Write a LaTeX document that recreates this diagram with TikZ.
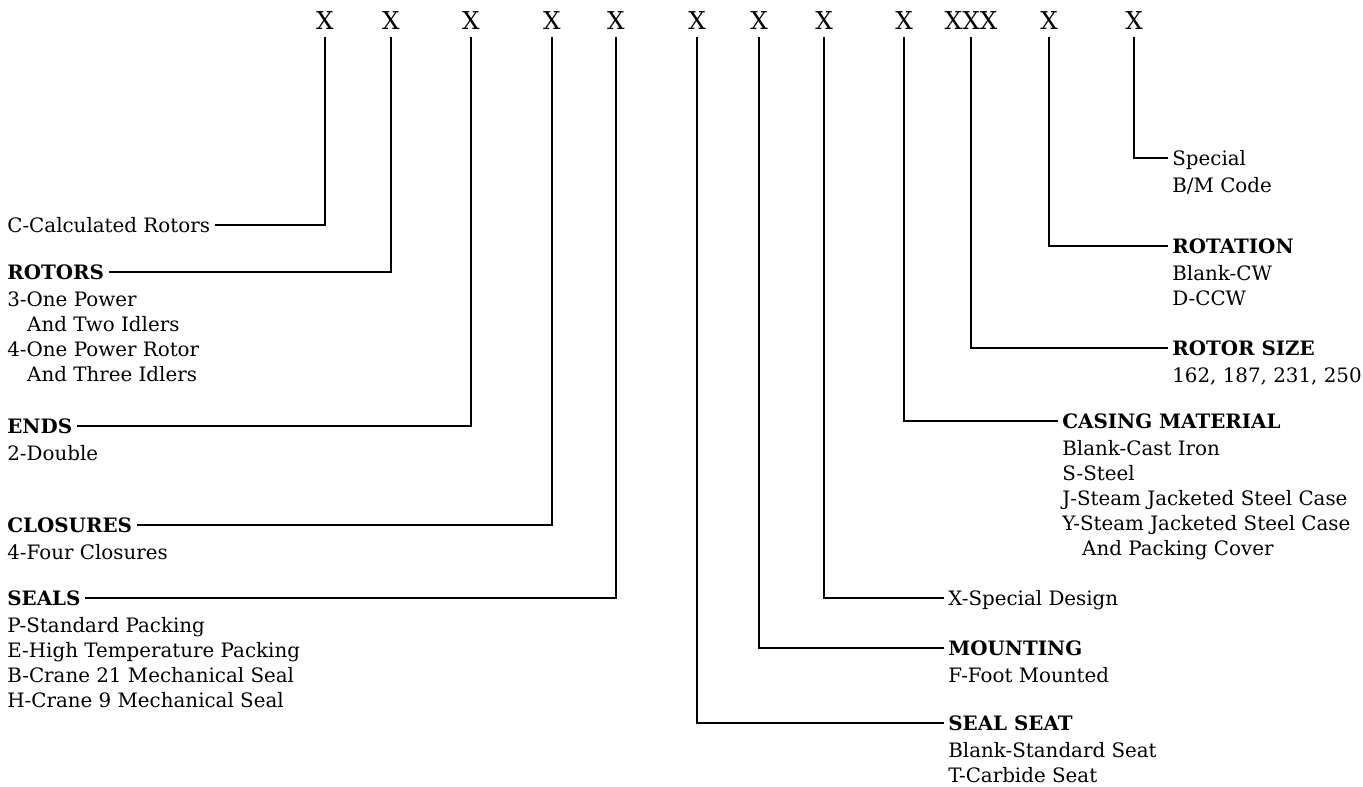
\documentclass[tikz,border=0pt]{standalone}
\usepackage{fontspec}
\setmainfont{DejaVu Serif}
\usetikzlibrary{positioning}
\tikzset{
    codechar/.style={font=\fontsize{14}{16}\selectfont, inner sep=4pt, anchor=base},
    keyhead/.style={font=\fontsize{11.3}{14.2}\selectfont\bfseries, inner xsep=2.5pt, inner ysep=0pt, text height=8.2pt, text depth=0pt, anchor=west},
    keyplain/.style={keyhead, font=\fontsize{11.3}{14.2}\selectfont},
    keybody/.style={font=\fontsize{11.3}{14.2}\selectfont, align=left, inner xsep=2.5pt, inner ysep=0pt},
    leader/.style={line width=1.6pt}
}

\begin{document}
\begin{tikzpicture}[x=0.02cm, y=-0.02cm]
        \useasboundingbox (0,0) rectangle (1363,787);

        % model code letters
        \node[codechar] (x1) at (325,30) {X};
        \node[codechar] (x2) at (391,30) {X};
        \node[codechar] (x3) at (471,30) {X};
        \node[codechar] (x4) at (552,30) {X};
        \node[codechar] (x5) at (616,30) {X};
        \node[codechar] (x6) at (697,30) {X};
        \node[codechar] (x7) at (759,30) {X};
        \node[codechar] (x8) at (824,30) {X};
        \node[codechar] (x9) at (904,30) {X};
        \node[codechar] (x10) at (971,30) {XXX};
        \node[codechar] (x11) at (1049,30) {X};
        \node[codechar] (x12) at (1134,30) {X};

        % left side
        \node[keyplain] (calc) at (2.6,225) {C-Calculated Rotors};
        \node[keyhead] (rotors) at (2.6,272) {ROTORS};
        \node[keybody, below right=6.8pt and 0pt of rotors.south west] (rotorsb) {3-One Power\\\hspace*{1em}And Two Idlers\\4-One Power Rotor\\\hspace*{1em}And Three Idlers};
        \node[keyhead] (ends) at (2.6,426) {ENDS};
        \node[keybody, below right=6.8pt and 0pt of ends.south west] (endsb) {2-Double};
        \node[keyhead] (clos) at (2.6,525) {CLOSURES};
        \node[keybody, below right=6.8pt and 0pt of clos.south west] (closb) {4-Four Closures};
        \node[keyhead] (seals) at (2.6,598) {SEALS};
        \node[keybody, below right=6.8pt and 0pt of seals.south west] (sealsb) {P-Standard Packing\\E-High Temperature Packing\\B-Crane 21 Mechanical Seal\\H-Crane 9 Mechanical Seal};

        % right side
        \node[keyplain] (spec) at (1167.6,158) {Special};
        \node[keybody, below right=6.8pt and 0pt of spec.south west] (specb) {B/M Code};
        \node[keyhead] (rot) at (1167.6,246) {ROTATION};
        \node[keybody, below right=6.8pt and 0pt of rot.south west] (rotb) {Blank-CW\\D-CCW};
        \node[keyhead] (size) at (1167.6,348) {ROTOR SIZE};
        \node[keybody, below right=6.8pt and 0pt of size.south west] (sizeb) {162, 187, 231, 250};
        \node[keyhead] (casing) at (1057.6,421) {CASING MATERIAL};
        \node[keybody, below right=6.8pt and 0pt of casing.south west] (casingb) {Blank-Cast Iron\\S-Steel\\J-Steam Jacketed Steel Case\\Y-Steam Jacketed Steel Case\\\hspace*{1em}And Packing Cover};
        \node[keyplain] (xspec) at (943.6,598) {X-Special Design};
        \node[keyhead] (mount) at (943.6,648) {MOUNTING};
        \node[keybody, below right=6.8pt and 0pt of mount.south west] (mountb) {F-Foot Mounted};
        \node[keyhead] (seat) at (943.6,723) {SEAL SEAT};
        \node[keybody, below right=6.8pt and 0pt of seat.south west] (seatb) {Blank-Standard Seat\\T-Carbide Seat};

        \draw[leader] (x1.south) |- (calc.east);
        \draw[leader] (x2.south) |- (rotors.east);
        \draw[leader] (x3.south) |- (ends.east);
        \draw[leader] (x4.south) |- (clos.east);
        \draw[leader] (x5.south) |- (seals.east);
        \draw[leader] (x6.south) |- (seat.west);
        \draw[leader] (x7.south) |- (mount.west);
        \draw[leader] (x8.south) |- (xspec.west);
        \draw[leader] (x9.south) |- (casing.west);
        \draw[leader] (x10.south) |- (size.west);
        \draw[leader] (x11.south) |- (rot.west);
        \draw[leader] (x12.south) |- (spec.west);
    \end{tikzpicture}
\end{document}
